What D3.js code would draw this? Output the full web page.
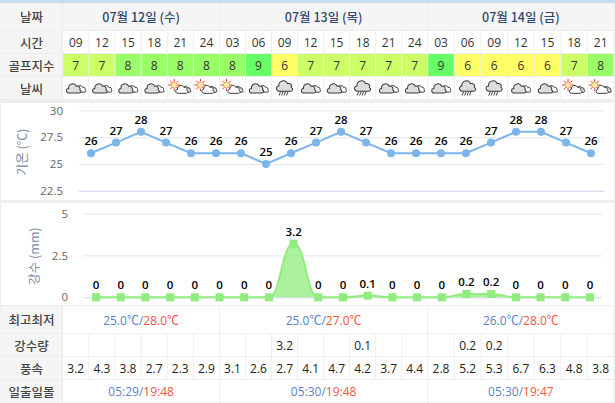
<!DOCTYPE html>
<html>
<head>
<meta charset="utf-8">
<script src="https://d3js.org/d3.v7.min.js"></script>
<style>
html, body { margin: 0; padding: 0; background: #fff; overflow: hidden; }
svg { display: block; }
text { font-family: "Open Sans", "Noto Sans CJK KR", sans-serif; }
.ko { font-family: "Noto Sans CJK KR", sans-serif; }
</style>
</head>
<body>
<svg id="chart" width="615" height="403"></svg>
<script>
const days = ["07월 12일 (수)", "07월 13일 (목)", "07월 14일 (금)"];
const dayCounts = [6, 8, 7];
const hours = ["09","12","15","18","21","24","03","06","09","12","15","18","21","24","03","06","09","12","15","18","21"];
const golf = [7,7,8,8,8,8,8,9,6,7,7,7,7,7,9,6,6,6,6,7,8];
const weather = ["c","c","c","c","s","s","s","c","r","c","c","r","c","c","c","r","r","c","c","s","s"];
const temps = [26,27,28,27,26,26,26,25,26,27,28,27,26,26,26,26,27,28,28,27,26];
const rain = [0,0,0,0,0,0,0,0,3.2,0,0,0.1,0,0,0,0.2,0.2,0,0,0,0];
const wind = [3.2,4.3,3.8,2.7,2.3,2.9,3.1,2.6,2.7,4.1,4.7,4.2,3.7,4.4,2.8,5.2,5.3,6.7,6.3,4.8,3.8];
const lows = ["25.0℃", "25.0℃", "26.0℃"];
const highs = ["28.0℃", "27.0℃", "28.0℃"];
const sunrise = ["05:29", "05:30", "05:30"];
const sunset = ["19:48", "19:48", "19:47"];
const tempTicks = [22.5, 25, 27.5, 30];
const rainTicks = [0, 2.5, 5];

const golfColor = d3.scaleOrdinal().domain([6,7,8,9]).range(["#ffff66","#ccff66","#99ff66","#66ff66"]);

const svg = d3.select("#chart");
const labelW = 62;
const dayEdges = [62.7, 219.5, 427.7, 614];
const gapColor = "#eeeeee";

svg.append("rect").attr("width", 615).attr("height", 403).attr("fill", gapColor);
svg.append("rect").attr("width", 615).attr("height", 3).attr("fill", "#c9dcee");

// column edges, per day
let colEdges = [];
days.forEach((_, i) => {
    const s = d3.scaleLinear().domain([0, dayCounts[i]]).range([dayEdges[i], dayEdges[i + 1]]);
    d3.range(dayCounts[i]).forEach(k => colEdges.push({x0: s(k), x1: s(k + 1), day: i}));
});

function cell(x0, x1, y0, y1, fill) {
    svg.append("rect")
        .attr("x", x0 + 0.5).attr("y", y0)
        .attr("width", x1 - x0 - 1).attr("height", y1 - y0)
        .attr("fill", fill);
}
function label(x, y, txt, opt = {}) {
    return svg.append("text")
        .attr("x", x).attr("y", y)
        .attr("text-anchor", "middle")
        .attr("dominant-baseline", "central")
        .attr("font-size", opt.size || 12)
        .attr("font-weight", opt.weight || "normal")
        .attr("fill", opt.color || "#222")
        .attr("class", opt.ko ? "ko" : null)
        .text(txt);
}
function rowLabel(y0, y1, txt) {
    cell(0, labelW, y0, y1, "#f5f5f5");
    label(labelW / 2 + 0.5, (y0 + y1) / 2, txt, {ko: true, size: 12.5, weight: 500, color: "#444"});
}

// header rows
const rowDate = [3, 30], rowTime = [31, 53], rowGolf = [54, 76], rowSky = [77, 99];
rowLabel(rowDate[0], rowDate[1], "날짜");
rowLabel(rowTime[0], rowTime[1], "시간");
rowLabel(rowGolf[0], rowGolf[1], "골프지수");
rowLabel(rowSky[0], rowSky[1], "날씨");

days.forEach((d, i) => {
    cell(dayEdges[i], dayEdges[i + 1], rowDate[0], rowDate[1], "#f5f5f5");
    label((dayEdges[i] + dayEdges[i + 1]) / 2, (rowDate[0] + rowDate[1]) / 2 - 0.5, d,
        {ko: true, size: 12.5, weight: 500, color: "#2f4a6e"});
});

colEdges.forEach((c, i) => {
    const cx = (c.x0 + c.x1) / 2;
    cell(c.x0, c.x1, rowTime[0], rowTime[1], "#fff");
    label(cx, (rowTime[0] + rowTime[1]) / 2, hours[i], {color: "#333"});
    cell(c.x0, c.x1, rowGolf[0], rowGolf[1], golfColor(golf[i]));
    label(cx, (rowGolf[0] + rowGolf[1]) / 2, golf[i], {color: "#333"});
    cell(c.x0, c.x1, rowSky[0], rowSky[1], "#fff");
    drawSky(cx, (rowSky[0] + rowSky[1]) / 2, weather[i]);
});

// cloud outline is roughly 17 wide, 12 tall at k = 1
function cloudPath(g, dx, dy, k, fill) {
    g.append("path")
        .attr("transform", `translate(${dx},${dy}) scale(${k})`)
        .attr("d", "M-5.5,6 C-9.5,6 -9.5,0.5 -6,0.5 C-6.5,-5 1,-7 3,-2 C6,-3 8.5,0 7,2 C9.5,3 8.5,6 6,6 Z")
        .attr("fill", fill)
        .attr("stroke", "#3a3a3a")
        .attr("stroke-width", 1 / k);
}
function drawSky(cx, cy, kind) {
    const g = svg.append("g").attr("transform", `translate(${cx},${cy})`);
    if (kind === "s") {
        const sun = g.append("g").attr("transform", "translate(-6,-3)");
        d3.range(8).forEach(a => {
            const t = a * Math.PI / 4;
            sun.append("line")
                .attr("x1", 3.5 * Math.cos(t)).attr("y1", 3.5 * Math.sin(t))
                .attr("x2", 6 * Math.cos(t)).attr("y2", 6 * Math.sin(t))
                .attr("stroke", "#e53a28").attr("stroke-width", 1);
        });
        sun.append("circle").attr("r", 3.2).attr("fill", "#ffe9a8").attr("stroke", "#e8603a").attr("stroke-width", 0.6);
        cloudPath(g, 6, 1, 0.55, "#ddd");
        cloudPath(g, 1.5, 1, 0.72, "#fff");
    } else if (kind === "r") {
        cloudPath(g, 0, -2.5, 0.95, "#ddd");
        [-4, -1.5, 1, 3.5].forEach(x => {
            g.append("line")
                .attr("x1", x).attr("y1", 3.5).attr("x2", x - 1.5).attr("y2", 7.5)
                .attr("stroke", "#444").attr("stroke-width", 1);
        });
    } else {
        cloudPath(g, 5, 0.5, 0.6, "#fff");
        cloudPath(g, -2, 0, 0.85, "#ddd");
    }
}

// temperature chart
svg.append("rect").attr("x", 1).attr("y", 103).attr("width", 613).attr("height", 97).attr("fill", "#fff");
const xT = d3.scaleLinear().domain([0, 20]).range([91, 591]);
const yT = d3.scaleLinear().domain([22.5, 30]).range([190.8, 110.4]);
const tempAxis = svg.append("g").attr("transform", "translate(79,0)")
    .call(d3.axisRight(yT).tickValues(tempTicks).tickSize(525).tickFormat(d3.format("~r")));
tempAxis.select(".domain").remove();
tempAxis.selectAll("line").attr("stroke", "#e6e6e6");
tempAxis.selectAll(".tick:first-of-type line").attr("stroke", "#ccd6eb");
tempAxis.selectAll("text").attr("x", -16).attr("dy", "0.32em").attr("text-anchor", "end")
    .attr("font-size", 11.5).attr("fill", "#666");

svg.append("text").attr("class", "ko")
    .attr("transform", "translate(27,152) rotate(-90)")
    .attr("text-anchor", "middle").attr("font-size", 12.5).attr("fill", "#7a8aa8")
    .text("기온 (℃)");

const tempLine = d3.line().x((_, i) => xT(i)).y(d => yT(d));
svg.append("path").datum(temps).attr("d", tempLine)
    .attr("fill", "none").attr("stroke", "#7cb5ec").attr("stroke-width", 2);
svg.selectAll(".t-dot").data(temps).enter().append("circle")
    .attr("cx", (_, i) => xT(i)).attr("cy", d => yT(d)).attr("r", 4).attr("fill", "#7cb5ec");
svg.selectAll(".t-lab").data(temps).enter().append("text")
    .attr("x", (_, i) => xT(i)).attr("y", d => yT(d) - 8)
    .attr("text-anchor", "middle").attr("font-size", 11.5).attr("font-weight", 600)
    .attr("fill", "#000").attr("stroke", "#fff").attr("stroke-width", 2)
    .attr("paint-order", "stroke")
    .text(d => d);

// rainfall chart
svg.append("rect").attr("x", 1).attr("y", 203).attr("width", 613).attr("height", 102).attr("fill", "#fff");
const xR = d3.scaleLinear().domain([0, 20]).range([96, 590]);
const yR = d3.scaleLinear().domain([0, 5]).range([297.3, 213.5]);
const rainAxis = svg.append("g").attr("transform", "translate(84,0)")
    .call(d3.axisRight(yR).tickValues(rainTicks).tickSize(518).tickFormat(d3.format("~r")));
rainAxis.select(".domain").remove();
rainAxis.selectAll("line").attr("stroke", "#e6e6e6");
rainAxis.selectAll(".tick:first-of-type line").attr("stroke", "#ccd6eb");
rainAxis.selectAll("text").attr("x", -16).attr("dy", "0.32em").attr("text-anchor", "end")
    .attr("font-size", 11.5).attr("fill", "#666");

svg.append("text").attr("class", "ko")
    .attr("transform", "translate(39,256) rotate(-90)")
    .attr("text-anchor", "middle").attr("font-size", 12.5).attr("fill", "#7a8aa8")
    .text("강수 (mm)");

const rainArea = d3.area().x((_, i) => xR(i)).y0(yR(0)).y1(d => yR(d)).curve(d3.curveBumpX);
const rainLine = d3.line().x((_, i) => xR(i)).y(d => yR(d)).curve(d3.curveBumpX);
svg.append("path").datum(rain).attr("d", rainArea).attr("fill", "#90ed7d").attr("fill-opacity", 0.75);
svg.append("path").datum(rain).attr("d", rainLine)
    .attr("fill", "none").attr("stroke", "#90ed7d").attr("stroke-width", 2);
svg.selectAll(".r-dot").data(rain).enter().append("rect")
    .attr("x", (_, i) => xR(i) - 4).attr("y", d => yR(d) - 4)
    .attr("width", 8).attr("height", 8).attr("fill", "#90ed7d");
svg.selectAll(".r-lab").data(rain).enter().append("text")
    .attr("x", (_, i) => xR(i)).attr("y", d => yR(d) - 8)
    .attr("text-anchor", "middle").attr("font-size", 11.5).attr("font-weight", 600)
    .attr("fill", "#000").attr("stroke", "#fff").attr("stroke-width", 2)
    .attr("paint-order", "stroke")
    .text(d => d);

// bottom table
const rowTemp = [306, 333], rowRain = [334, 356], rowWind = [357, 379], rowSun = [380, 402];
rowLabel(rowTemp[0], rowTemp[1], "최고최저");
rowLabel(rowRain[0], rowRain[1], "강수량");
rowLabel(rowWind[0], rowWind[1], "풍속");
rowLabel(rowSun[0], rowSun[1], "일출일몰");

function pairText(i, y, a, b) {
    const cx = (dayEdges[i] + dayEdges[i + 1]) / 2;
    const t = svg.append("text").attr("x", cx).attr("y", y)
        .attr("text-anchor", "middle").attr("dominant-baseline", "central").attr("font-size", 12);
    t.append("tspan").attr("fill", "#5b82c4").text(a + "/");
    t.append("tspan").attr("fill", "#f4553f").text(b);
}
days.forEach((_, i) => {
    cell(dayEdges[i], dayEdges[i + 1], rowTemp[0], rowTemp[1], "#fff");
    pairText(i, (rowTemp[0] + rowTemp[1]) / 2, lows[i], highs[i]);
    cell(dayEdges[i], dayEdges[i + 1], rowSun[0], rowSun[1], "#fff");
    pairText(i, (rowSun[0] + rowSun[1]) / 2, sunrise[i], sunset[i]);
});
colEdges.forEach((c, i) => {
    const cx = (c.x0 + c.x1) / 2;
    cell(c.x0, c.x1, rowRain[0], rowRain[1], "#fff");
    if (rain[i] > 0) label(cx, (rowRain[0] + rowRain[1]) / 2, rain[i], {color: "#222"});
    cell(c.x0, c.x1, rowWind[0], rowWind[1], "#fff");
    label(cx, (rowWind[0] + rowWind[1]) / 2, wind[i].toFixed(1), {color: "#222"});
});
</script>
</body>
</html>
